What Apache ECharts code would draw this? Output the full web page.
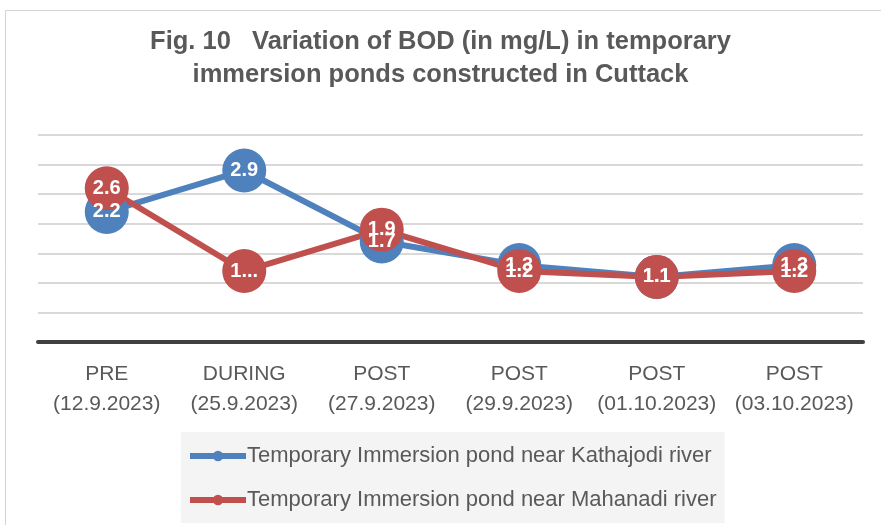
<!DOCTYPE html>
<html>
<head>
<meta charset="utf-8">
<script src="https://cdn.jsdelivr.net/npm/echarts@6/dist/echarts.min.js"></script>
<style>
  html, body { margin: 0; padding: 0; background: #fff; }
  #chart { width: 881px; height: 525px; }
</style>
</head>
<body>
<div id="chart"></div>
<script>
const categories = [
  'PRE\n(12.9.2023)',
  'DURING\n(25.9.2023)',
  'POST\n(27.9.2023)',
  'POST\n(29.9.2023)',
  'POST\n(01.10.2023)',
  'POST\n(03.10.2023)'
]
const kathajodi = [2.2, 2.9, 1.7, 1.3, 1.1, 1.3]
const mahanadi = [2.6, 1.2, 1.9, 1.2, 1.1, 1.2]
const seriesNames = [
  'Temporary Immersion pond near Kathajodi river',
  'Temporary Immersion pond near Mahanadi river'
]

const FONT = '"Liberation Sans", sans-serif'
const BLUE = '#4f81bd'
const RED = '#c0504d'
// Excel squeezed this one label into "1..."
const truncatedRed = 1

function buildSeries(name, values, color, truncIdx) {
  return {
    name,
    type: 'line',
    data: values.map((v, i) => i === truncIdx
      ? { value: v, label: { formatter: p => String(p.value).charAt(0) + '...' } }
      : v),
    symbol: 'circle',
    symbolSize: 44,
    itemStyle: { color },
    lineStyle: { color, width: 6 },
    label: {
      show: true,
      position: 'inside',
      color: '#fff',
      fontFamily: FONT,
      fontWeight: 'bold',
      fontSize: 20
    },
    emphasis: { disabled: true },
    animation: false
  }
}

const chart = echarts.init(document.getElementById('chart'))
chart.setOption({
  animation: false,
  title: {
    text: 'Fig. 10   Variation of BOD (in mg/L) in temporary\nimmersion ponds constructed in Cuttack',
    left: 'center',
    top: 20,
    textStyle: {
      fontFamily: FONT,
      fontWeight: 'bold',
      fontSize: 25.5,
      lineHeight: 33,
      color: '#595959'
    }
  },
  graphic: [{
    type: 'rect',
    silent: true,
    shape: { x: 5.5, y: 10.5, width: 1000, height: 1000 },
    style: { fill: 'none', stroke: '#d4d4d4', lineWidth: 1 }
  }],
  legend: {
    orient: 'vertical',
    left: 181,
    top: 432,
    padding: [13, 8, 12, 6],
    backgroundColor: '#f4f4f4',
    itemWidth: 56,
    itemHeight: 13,
    itemGap: 22,
    lineStyle: { width: 6 },
    textStyle: { fontFamily: FONT, fontSize: 22, color: '#595959', padding: [0, 0, 0, -4] },
    data: seriesNames
  },
  grid: { left: 38, right: 18, top: 135, bottom: 183 },
  xAxis: {
    type: 'category',
    data: categories,
    axisLine: { lineStyle: { color: '#404040', width: 4 } },
    axisTick: { show: false },
    axisLabel: {
      fontFamily: FONT,
      fontSize: 21,
      lineHeight: 30,
      color: '#595959',
      margin: 17,
      interval: 0
    }
  },
  yAxis: {
    type: 'value',
    min: 0,
    max: 3.5,
    interval: 0.5,
    axisLabel: { show: false },
    axisLine: { show: false },
    axisTick: { show: false },
    splitLine: { lineStyle: { color: '#cccccc', width: 1.5 } }
  },
  series: [
    buildSeries(seriesNames[0], kathajodi, BLUE, -1),
    buildSeries(seriesNames[1], mahanadi, RED, truncatedRed)
  ]
})
</script>
</body>
</html>
